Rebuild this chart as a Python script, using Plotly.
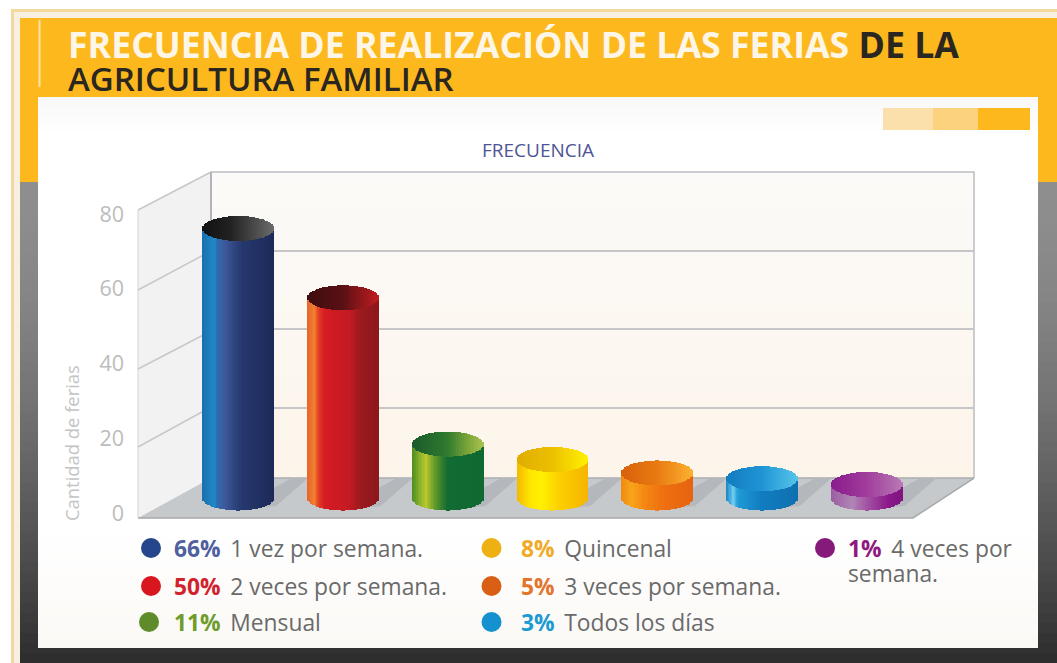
import math
import plotly.graph_objects as go

W, H = 1057, 663

# ---------- data ----------
categories = ["1 vez por semana.", "2 veces por semana.", "Mensual", "Quincenal",
              "3 veces por semana.", "Todos los días", "4 veces por<br>semana."]
percent_labels = ["66%", "50%", "11%", "8%", "5%", "3%", "1%"]
values = [70, 52, 14, 10, 6.5, 5, 3.5]
y_ticks = [0, 20, 40, 60, 80]

percent_colors = ["#4f5f9f", "#d2232c", "#6f9c2a", "#f0aa28", "#e2742c", "#1c9ad2", "#8e1a80"]
marker_colors = ["#26468c", "#d8161f", "#5f8c2a", "#eeb012", "#d95f15", "#1591cf", "#861a7a"]

side_stops = [
    [(0, "#1a6fae"), (.17, "#1f8ac8"), (.2, "#2a6fb0"), (.3, "#3f5a9c"), (.55, "#26386f"), (1, "#1c2a58")],
    [(0, "#e8652a"), (.1, "#f08030"), (.17, "#e23a22"), (.25, "#d41c24"), (.6, "#c41a22"), (.75, "#9a1a1e"), (1, "#8e181c")],
    [(0, "#4a8a20"), (.12, "#8fb52b"), (.2, "#b8c82e"), (.3, "#6fa028"), (.5, "#116b32"), (1, "#0f6a32")],
    [(0, "#f4b800"), (.2, "#ffe600"), (.35, "#fff000"), (.6, "#fccf00"), (1, "#f6b400")],
    [(0, "#f08a10"), (.15, "#f9a51a"), (.3, "#f58a12"), (.6, "#ee6f10"), (1, "#e6640f")],
    [(0, "#1a86c4"), (.1, "#6fcdf0"), (.17, "#1f9ad6"), (.5, "#117cc0"), (1, "#0f70b0")],
    [(0, "#9a5ea0"), (.3, "#b085b5"), (.55, "#a04aa0"), (.8, "#8c1a8a"), (1, "#7f1480")],
]
top_stops = [
    [(0, "#111111"), (.4, "#222222"), (1, "#6a6a6a")],
    [(0, "#3d0d0f"), (.5, "#5a1014"), (1, "#c01c20")],
    [(0, "#1a5a2a"), (.5, "#2f7a30"), (.8, "#7fa838"), (1, "#a6c050")],
    [(0, "#e0ac00"), (.5, "#ecc000"), (1, "#fff000")],
    [(0, "#d8600c"), (.5, "#e87a10"), (1, "#fbb030")],
    [(0, "#127cc0"), (.5, "#1f94d4"), (1, "#55c4ea")],
    [(0, "#8a1a8c"), (.5, "#a03c9c"), (1, "#b878b4")],
]

# ---------- geometry ----------
FONT = "Open Sans"
YEL = "#fdb81d"
SPACING = 104.75        # px between cylinders
FIRST_X = 238.5         # px centre of first cylinder
BAR_W = 71              # px
BASE_Y = 498            # px of value 0 at the cylinders
PX_UNIT = 3.85          # px per unit at the cylinders
ELL = 12.5 / PX_UNIT    # half height of the ellipses, in data units
N_STRIPS = 48


def hex2rgb(h):
    return tuple(int(h[i:i + 2], 16) for i in (1, 3, 5))


def shade(stops, t):
    for (a, ca), (b, cb) in zip(stops, stops[1:]):
        if t <= b:
            f = (t - a) / (b - a)
            ra, rb = hex2rgb(ca), hex2rgb(cb)
            return "rgb(%d,%d,%d)" % tuple(round(x + (y - x) * f) for x, y in zip(ra, rb))
    return stops[-1][1]


def px(x):
    return x / W


def py(y):
    return 1 - y / H


def rect(x0, y0, x1, y1, color):
    return dict(type="rect", xref="paper", yref="paper", x0=px(x0), x1=px(x1), y0=py(y0), y1=py(y1),
                fillcolor=color, line_width=0, layer="below")


def poly(points, fill=None, line=None, lw=1):
    path = "M" + " L".join(f"{px(a):.5f},{py(b):.5f}" for a, b in points)
    d = dict(type="path", xref="paper", yref="paper", path=path + (" Z" if fill else ""), layer="below",
             line=dict(color=line or "rgba(0,0,0,0)", width=lw if line else 0))
    if fill:
        d["fillcolor"] = fill
    return d


def mix(c0, c1, f):
    a, b = hex2rgb(c0), hex2rgb(c1)
    return "rgb(%d,%d,%d)" % tuple(round(x + (y - x) * f) for x, y in zip(a, b))


shapes = []
# frame
shapes.append(rect(11, 9, W, H, "#f3d9a0"))
shapes.append(rect(14, 12, W, H, "#f7efe0"))
shapes.append(rect(20, 18, W, 182, YEL))
n = 48
for i in range(n):
    y0 = 182 + (H - 182) * i / n
    shapes.append(rect(20, y0, W, y0 + (H - 182) / n + 1, mix("#8e8e8e", "#2e2e2e", (i / (n - 1)) ** 1.6)))
shapes.append(rect(38, 97, 1038, 648, "#ffffff"))
for i in range(8):
    shapes.append(rect(38, 97 + i * 5, 1038, 102 + i * 5, mix("#f8f8f8", "#ffffff", i / 7)))
for i in range(12):
    y0 = 528 + i * 10
    shapes.append(rect(38, y0, 1038, min(y0 + 11, 648), mix("#ffffff", "#fbf9f6", i / 11)))
shapes.append(rect(38.5, 20, 40.5, 87, "#fbe3a8"))
# swatches
shapes.append(rect(883, 108, 933, 130, "#fbe0ab"))
shapes.append(rect(933, 108, 978, 130, "#fcd27f"))
shapes.append(rect(978, 108, 1030, 130, YEL))

# 3D box
LEFT_F, LEFT_B, RIGHT_B, RIGHT_F = 138, 211, 974, 913
FRONT0 = 518
BACK_TOP, BACK_FLOOR = 172, 478
n = 24
for i in range(n):
    y0 = BACK_TOP + (BACK_FLOOR - BACK_TOP) * i / n
    shapes.append(rect(LEFT_B, y0, RIGHT_B, y0 + (BACK_FLOOR - BACK_TOP) / n + 1,
                       mix("#fbfaf8", "#fdf5ea", i / (n - 1))))
shapes.append(poly([(LEFT_F, 210), (LEFT_B, BACK_TOP), (LEFT_B, BACK_FLOOR), (LEFT_F, FRONT0)], fill="#f2f2f2"))
shapes.append(poly([(LEFT_F, FRONT0), (LEFT_B, BACK_FLOOR), (RIGHT_B, BACK_FLOOR), (RIGHT_F, FRONT0)], fill="#c6c9cc"))
shapes.append(poly([(LEFT_F, 210), (LEFT_B, BACK_TOP)], line="#c8c8c8", lw=1.5))
shapes.append(poly([(LEFT_F, 210), (LEFT_F, FRONT0)], line="#d4d4d4", lw=1))
shapes.append(poly([(LEFT_B, BACK_TOP), (LEFT_B, BACK_FLOOR)], line="#b4b4b8", lw=2))
shapes.append(poly([(LEFT_B, BACK_TOP), (RIGHT_B, BACK_TOP), (RIGHT_B, BACK_FLOOR)], line="#bdbdc2", lw=1.5))
shapes.append(poly([(LEFT_B, BACK_FLOOR), (RIGHT_B, BACK_FLOOR)], line="#a9acaf", lw=1.5))
shapes.append(poly([(LEFT_F, FRONT0), (RIGHT_F, FRONT0), (RIGHT_B, BACK_FLOOR)], line="#a6a8aa", lw=1.5))
for v, fy, by in [(60, 290, 251), (40, 369, 331), (20, 447, 407)]:
    shapes.append(poly([(LEFT_F, fy), (LEFT_B, by)], line="#c8c8c8", lw=1.5))
# floor shadows next to every cylinder
for i in range(len(values)):
    cx = FIRST_X + SPACING * i
    shapes.append(poly([(cx - 5, 510), (cx + BAR_W / 2 + 18, 478), (cx + BAR_W / 2 + 34, 478), (cx + BAR_W / 2 + 2, 506)],
                       fill="#b4b7bb"))

fig = go.Figure()

# subplot 1: back-wall grid
fig.add_trace(go.Scatter(x=[0], y=[0], xaxis="x", yaxis="y", mode="markers", marker_opacity=0,
                         showlegend=False, hoverinfo="skip"))
# subplot 2: value axis labels
fig.add_trace(go.Scatter(x=[0], y=[0], xaxis="x2", yaxis="y2", mode="markers", marker_opacity=0,
                         showlegend=False, hoverinfo="skip"))

# subplot 3: cylinders as stacked vertical strips
strip_w = BAR_W / SPACING / N_STRIPS
xs = list(range(len(values)))
for k in range(N_STRIPS):
    u = (k + .5) / N_STRIPS
    t = 2 * u - 1
    s = math.sqrt(max(0, 1 - t * t))
    off = t * BAR_W / SPACING / 2 - strip_w * .6
    fig.add_trace(go.Bar(x=xs, y=values, base=[-ELL * s] * len(values), width=strip_w * 1.2, offset=off,
                         xaxis="x3", yaxis="y3", showlegend=False, hoverinfo="skip",
                         marker=dict(color=[shade(st, u) for st in side_stops], line_width=0)))
for k in range(N_STRIPS):
    u = (k + .5) / N_STRIPS
    t = 2 * u - 1
    s = math.sqrt(max(0, 1 - t * t))
    off = t * BAR_W / SPACING / 2 - strip_w * .6
    fig.add_trace(go.Bar(x=xs, y=[2 * ELL * s] * len(values), base=[v - ELL * s for v in values],
                         width=strip_w * 1.2, offset=off,
                         xaxis="x3", yaxis="y3", showlegend=False, hoverinfo="skip",
                         marker=dict(color=[shade(st, u) for st in top_stops], line_width=0)))

# subplot 4: legend dots, pixel-scaled axes
legend_pos = [(151, 548), (151, 586), (149, 622), (491.5, 548), (491.5, 586), (491.5, 622), (825, 548)]
for (lx, ly), c in zip(legend_pos, marker_colors):
    fig.add_trace(go.Scatter(x=[lx], y=[ly], xaxis="x4", yaxis="y4", mode="markers", showlegend=False,
                             hoverinfo="skip", marker=dict(size=20, color=c, line_width=0)))

annotations = []


def note(text, x, y, size, color, anchor="left", yanchor="middle", angle=0):
    annotations.append(dict(text=text, x=px(x), y=py(y), xref="paper", yref="paper", showarrow=False,
                            xanchor=anchor, yanchor=yanchor, font=dict(family=FONT, size=size, color=color),
                            textangle=angle, align="left", borderpad=0))


# the annotation font size sets the line pitch (1.3 em); the spans set the glyph size
note('<span style="font-size:35.7px;font-weight:700;color:#fdf6e6">FRECUENCIA DE REALIZACIÓN DE LAS FERIAS</span>'
     '<span style="font-size:35.7px;font-weight:700;color:#2a2620"> DE LA</span><br>'
     '<span style="font-size:33px;font-weight:600;color:#2a2620">AGRICULTURA FAMILIAR</span>',
     67, 60, 25.4, "#2a2620")
note("FRECUENCIA", 538, 150, 19, "#4f5496", anchor="center")
note("Cantidad de ferias", 71, 443, 18.4, "#c4c4c4", anchor="center", angle=-90)

legend_text_x = [173, 173, 173, 520, 520, 520, 847]
LEG = 22.8
for i, (cat, pct) in enumerate(zip(categories, percent_labels)):
    first, _, rest = cat.partition("<br>")
    label = (f'<span style="font-size:{LEG}px"><b><span style="color:{percent_colors[i]}">{pct}</span></b>'
             f'\u2009 {first}</span>')
    if rest:
        label += f'<br><span style="font-size:{LEG}px">{rest}</span>'
        note(label, legend_text_x[i], legend_pos[i][1] + 12.5, 25 / 1.3, "#6a6a6a")
    else:
        note(label, legend_text_x[i], legend_pos[i][1], 25 / 1.3, "#6a6a6a")

hidden = dict(visible=False, fixedrange=True)
fig.update_layout(
    template="none",
    width=W, height=H, margin=dict(l=0, r=0, t=0, b=0, pad=0, autoexpand=False),
    paper_bgcolor="#ffffff", plot_bgcolor="rgba(0,0,0,0)",
    barmode="overlay", bargap=0, showlegend=False, shapes=shapes, annotations=annotations,
    font=dict(family=FONT),
    # back wall grid
    xaxis=dict(domain=[px(LEFT_B), px(RIGHT_B)], range=[0, 1], **hidden),
    yaxis=dict(domain=[py(486), py(172)], range=[0, 80], tickvals=[20, 40, 60, 80], showgrid=True,
               gridcolor="#c6c6c8", gridwidth=1.5, zeroline=False, showline=False, showticklabels=False,
               ticks="", fixedrange=True),
    # value axis labels
    xaxis2=dict(domain=[px(125), 1], range=[0, 1], **hidden),
    yaxis2=dict(domain=[py(513), py(214)], range=[0, 80], tickvals=y_ticks, showgrid=False, zeroline=False,
                showline=False, ticks="", anchor="x2", fixedrange=True,
                tickfont=dict(family=FONT, size=21.5, color="#bcbcbc")),
    # cylinders
    xaxis3=dict(domain=[0, 1], range=[-FIRST_X / SPACING, (W - FIRST_X) / SPACING], anchor="y3", **hidden),
    yaxis3=dict(domain=[0, 1], range=[(BASE_Y - H) / PX_UNIT, BASE_Y / PX_UNIT], anchor="x3", **hidden),
    # legend dots
    xaxis4=dict(domain=[0, 1], range=[0, W], anchor="y4", **hidden),
    yaxis4=dict(domain=[0, 1], range=[H, 0], anchor="x4", **hidden),
)

fig.write_html("out.html", post_script="document.body.style.margin='0';", config=dict(displayModeBar=False))
